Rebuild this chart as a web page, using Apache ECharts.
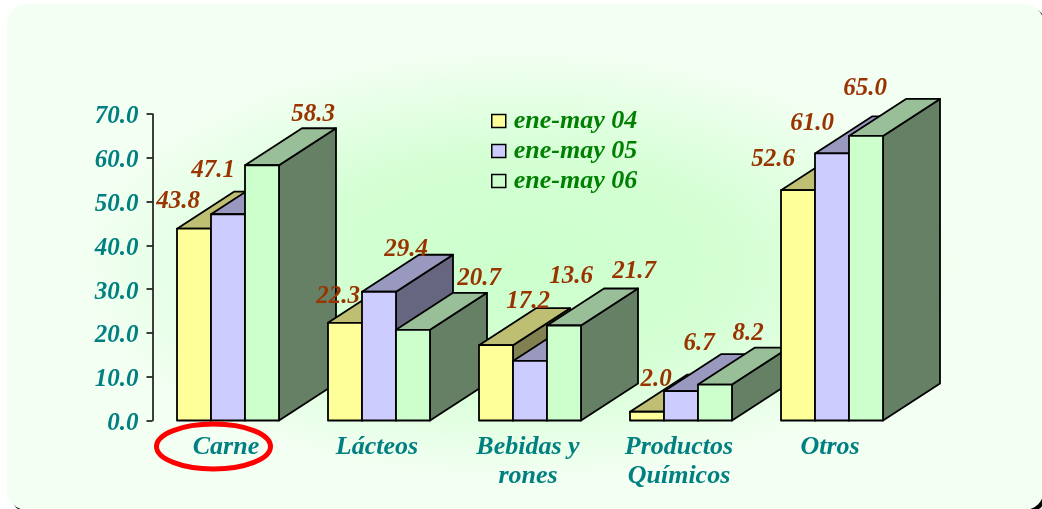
<!DOCTYPE html>
<html>
<head>
<meta charset="utf-8">
<style>html,body{margin:0;padding:0;background:#fff}#c{width:1042px;height:509px}</style>
<script src="https://cdn.jsdelivr.net/npm/echarts@6/dist/echarts.min.js"></script>
</head>
<body>
<div id="c"></div>
<script>
const categories = ['Carne', 'Lácteos', 'Bebidas y\nrones', 'Productos\nQuímicos', 'Otros'];
const seriesNames = ['ene-may 04', 'ene-may 05', 'ene-may 06'];
const values04 = [43.8, 22.3, 17.2, 2.0, 52.6];
const values05 = [47.1, 29.4, 13.6, 6.7, 61.0];
const values06 = [58.3, 20.7, 21.7, 8.2, 65.0];
const yTicks = { min: 0, max: 70, interval: 10 };

// layout and style, kept apart from the data
const palette = [
  { front: '#ffff99', top: '#bfbf73', side: '#808050' },
  { front: '#ccccff', top: '#9999bf', side: '#666680' },
  { front: '#ccffcc', top: '#99bf99', side: '#668066' }
];
const labelNudge = [
  [[-16, -27], [-7, -26], [32, -44], [9, -32], [-25, -31]],
  [[-15, -44], [27, -42], [41, -84], [18, -48], [-20, -30]],
  [[51, -51], [66, -51], [70, -54], [33, -51], [-1, -47]]
];
const depth = { dx: 57, dy: -37 };
const barFraction = 34 / 151;
const serif = '"Liberation Serif", "Times New Roman", serif';

function renderBar(s) {
  return function (params, api) {
    const cat = api.value(0), val = api.value(1);
    const base = api.coord([cat, 0]), topPt = api.coord([cat, val]);
    const w = api.size([1, 0])[0] * barFraction;
    const x0 = base[0] + (s - 1.5) * w, x1 = x0 + w, y0 = base[1], y1 = topPt[1];
    const { dx, dy } = depth, c = palette[s], z2 = cat * 10 + s;
    const line = { stroke: '#000', lineWidth: 1.8, lineJoin: 'round' };
    const poly = (points, fill) => ({
      type: 'polygon', z2, shape: { points }, style: Object.assign({ fill }, line)
    });
    const n = labelNudge[s][cat];
    return {
      type: 'group',
      children: [
        poly([[x1, y0], [x1 + dx, y0 + dy], [x1 + dx, y1 + dy], [x1, y1]], c.side),
        poly([[x0, y1], [x0 + dx, y1 + dy], [x1 + dx, y1 + dy], [x1, y1]], c.top),
        poly([[x0, y0], [x1, y0], [x1, y1], [x0, y1]], c.front),
        {
          type: 'text', z2: 1000,
          style: {
            x: (x0 + x1) / 2 + n[0], y: y1 + n[1],
            text: val.toFixed(1), align: 'center', verticalAlign: 'middle',
            fill: '#993300', font: 'italic bold 25px ' + serif
          }
        }
      ]
    };
  };
}

const allValues = [values04, values05, values06];
const chart = echarts.init(document.getElementById('c'), null, { renderer: 'canvas' });
chart.setOption({
  animation: false,
  backgroundColor: '#ffffff',
  tooltip: { show: false },
  graphic: [
    { type: 'rect', z: -10, shape: { x: 10, y: 7, width: 1037, height: 506, r: 20 }, style: { fill: '#000' } },
    { type: 'rect', z: -9, shape: { x: 7, y: 4, width: 1037, height: 506, r: 20 }, style: { fill: '#f3fff3' } },
    {
      type: 'rect', z: -8, x: 520, y: 265, scaleX: 2.05, scaleY: 1,
      shape: { x: -215, y: -215, width: 430, height: 430 },
      style: {
        fill: new echarts.graphic.RadialGradient(0, 0, 215, [
          { offset: 0, color: '#ccffcc' },
          { offset: 0.5, color: '#d4ffd4' },
          { offset: 1, color: '#f3fff3' }
        ], true)
      }
    },
    {
      type: 'ellipse', z: 100,
      shape: { cx: 213.5, cy: 446.5, rx: 57, ry: 22.5 },
      style: { fill: 'none', stroke: '#ff0000', lineWidth: 5 }
    }
  ],
  grid: { left: 152.5, right: 134.5, top: 114, bottom: 88.5 },
  legend: {
    left: 491, top: 107, padding: 0, orient: 'vertical', itemGap: 2,
    itemWidth: 14, itemHeight: 13, icon: 'rect', selectedMode: false,
    textStyle: { color: '#008000', fontFamily: serif, fontStyle: 'italic', fontWeight: 'bold', fontSize: 26, lineHeight: 28, padding: [0, 0, 0, 3] },
    data: seriesNames.map((name, i) => ({
      name, itemStyle: { color: palette[i].front, borderColor: '#000', borderWidth: 1.5 }
    }))
  },
  xAxis: {
    type: 'category', data: categories,
    axisLine: { show: false }, axisTick: { show: false },
    axisLabel: {
      interval: 0, margin: 12, color: '#008080', fontFamily: serif,
      fontStyle: 'italic', fontWeight: 'bold', fontSize: 26, lineHeight: 29,
      padding: [0, 4, 0, 0]
    }
  },
  yAxis: {
    type: 'value', min: yTicks.min, max: yTicks.max, interval: yTicks.interval,
    splitLine: { show: false },
    axisLine: { show: true, lineStyle: { color: '#000', width: 1.5 } },
    axisTick: { show: true, length: 6, lineStyle: { color: '#000', width: 1.5 } },
    axisLabel: {
      margin: 14, color: '#008080', fontFamily: serif, fontStyle: 'italic',
      fontWeight: 'bold', fontSize: 25, verticalAlign: 'top', lineHeight: 6, formatter: v => v.toFixed(1)
    }
  },
  series: seriesNames.map((name, s) => ({
    name, type: 'custom', clip: false, silent: true,
    encode: { x: 0, y: 1 },
    itemStyle: { color: palette[s].front },
    data: allValues[s].map((v, i) => [i, v]),
    renderItem: renderBar(s)
  }))
});
</script>
</body>
</html>
